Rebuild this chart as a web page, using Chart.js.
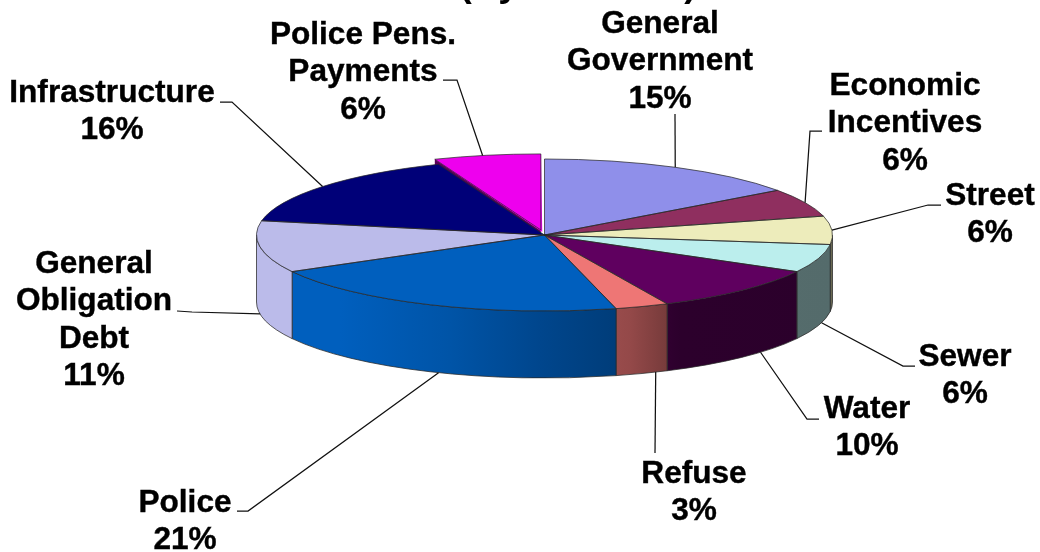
<!DOCTYPE html>
<html>
<head>
<meta charset="utf-8">
<title>Budget by function</title>
<script src="https://cdn.jsdelivr.net/npm/chart.js@4/dist/chart.umd.min.js"></script>
<style>
  html, body { margin: 0; padding: 0; background: #fff; }
  canvas { display: block; }
</style>
</head>
<body>
<canvas id="pie" width="1040" height="552"></canvas>
<script>
// Budget shares, clockwise from twelve o'clock.
const categories = [
  'General\nGovernment', 'Economic\nIncentives', 'Street', 'Sewer', 'Water',
  'Refuse', 'Police', 'General\nObligation\nDebt', 'Infrastructure', 'Police Pens.\nPayments'
];
const shares = [15, 6, 6, 6, 10, 3, 21, 11, 16, 6];
const sliceColors = [
  '#8f8fea', '#8f2f5f', '#edecbb', '#bbeeed', '#5f005f',
  '#ee7675', '#005fbe', '#bbbbea', '#000078', '#ee00ee'
];
const explodedOffsets = [0, 0, 0, 0, 0, 0, 0, 0, 0, 48];
const chartTitle = '(By Function)';

// Label placement: centre x, first baseline, leader elbow points, and how far
// across its slice the leader lands.
const labelLayout = [
  { x: 660, y: 33,  elbow: [[675, 114]], along: 0.5 },
  { x: 905, y: 95,  elbow: [[822, 131], [810, 131]], along: 0.5 },
  { x: 990, y: 205, elbow: [[941, 205], [928, 205]], along: 0.5 },
  { x: 965, y: 366, elbow: [[915, 366], [903, 366]], along: 0.4 },
  { x: 867, y: 418, elbow: [[819, 419], [807, 419]], along: 0.35 },
  { x: 694, y: 483, elbow: [[655, 453]], along: 0.23 },
  { x: 185, y: 512, elbow: [[237, 511], [248, 511]], along: 0.476 },
  { x: 94,  y: 273, elbow: [[177, 311], [192, 312]], along: 0.5 },
  { x: 112, y: 102, elbow: [[220, 102], [232, 102]], along: 0.5 },
  { x: 363, y: 44,  elbow: [[443, 80], [457, 80]], along: 0.46 }
];

const TILT = 76 / 288;     // vertical squash of the pie disc
const DEPTH = 67;          // wall height in pixels
const LABEL_FONT = 'bold 31.6px "Liberation Sans", Arial, sans-serif';
const LINE_STEP = 37.4;
// Light falling across the wall, from left to right.
const wallLight = [[256, 1], [340, 1], [450, 0.88], [540, 0.74], [630, 0.62], [680, 0.46], [833, 0.45]];

function shade(hex, f) {
  const n = parseInt(hex.slice(1), 16);
  const c = [n >> 16, (n >> 8) & 255, n & 255].map(v => Math.round(v * f));
  return `rgb(${c[0]},${c[1]},${c[2]})`;
}

// Screen shift the arc element applies to an exploded slice, in unsquashed units.
function arcShift(arc) {
  const off = (arc.options.offset || 0) / 4;
  const mid = (arc.startAngle + arc.endAngle) / 2;
  const span = arc.endAngle - arc.startAngle;
  const d = off * (1 + (1 - Math.sin(Math.min(Math.PI, span))));
  return { dx: Math.cos(mid) * d, dy: Math.sin(mid) * d };
}

const pie3d = {
  id: 'pie3d',
  beforeDatasetDraw(chart) {
    const { ctx } = chart;
    const arcs = chart.getDatasetMeta(0).data;
    const { x: cx, y: cy, outerRadius: r } = arcs[0];

    // Flank of the exploded slice, seen through the gap beside its neighbour.
    const last = arcs[arcs.length - 1];
    const s = arcShift(last);
    const ax = cx + s.dx, ay = cy + s.dy * TILT;
    const ex = ax + r * Math.cos(last.startAngle), ey = ay + r * TILT * Math.sin(last.startAngle);
    ctx.save();
    ctx.fillStyle = '#5a005a';
    ctx.beginPath();
    ctx.moveTo(ax, ay);
    ctx.lineTo(ex, ey);
    ctx.lineTo(ex, ey + DEPTH);
    ctx.lineTo(ax, ay + DEPTH);
    ctx.closePath();
    ctx.fill();

    // Outer walls of the slices facing the viewer.
    arcs.forEach((arc, i) => {
      const a0 = Math.max(arc.startAngle, 0);
      const a1 = Math.min(arc.endAngle, Math.PI);
      if (a1 <= a0) return;
      const g = ctx.createLinearGradient(256, 0, 833, 0);
      wallLight.forEach(([x, f]) => g.addColorStop((x - 256) / 577, shade(sliceColors[i], f)));
      ctx.beginPath();
      ctx.ellipse(cx, cy, r, r * TILT, 0, a0, a1);
      ctx.ellipse(cx, cy + DEPTH, r, r * TILT, 0, a1, a0, true);
      ctx.closePath();
      ctx.fillStyle = g;
      ctx.fill();
      ctx.lineWidth = 1;
      ctx.strokeStyle = 'rgba(40,40,40,0.75)';
      ctx.stroke();
    });
    ctx.restore();

    // The library draws the slices themselves through this squash.
    ctx.save();
    ctx.translate(cx, cy);
    ctx.scale(1, TILT);
    ctx.translate(-cx, -cy);
  },
  afterDatasetDraw(chart) {
    const { ctx } = chart;
    ctx.restore();
    const arcs = chart.getDatasetMeta(0).data;
    ctx.save();
    ctx.lineWidth = 1;
    ctx.strokeStyle = 'rgba(40,40,40,0.72)';
    arcs.forEach(arc => {
      const s = arcShift(arc);
      const ax = arc.x + s.dx, ay = arc.y + s.dy * TILT;
      ctx.beginPath();
      ctx.moveTo(ax, ay);
      ctx.ellipse(ax, ay, arc.outerRadius, arc.outerRadius * TILT, 0, arc.startAngle, arc.endAngle);
      ctx.closePath();
      ctx.stroke();
    });
    ctx.restore();
  },
  afterDraw(chart) {
    const { ctx } = chart;
    const arcs = chart.getDatasetMeta(0).data;
    ctx.save();

    // Title runs off the top edge of the canvas.
    ctx.fillStyle = '#000';
    ctx.textAlign = 'center';
    ctx.textBaseline = 'alphabetic';
    ctx.font = 'bold 36.8px "Liberation Sans", Arial, sans-serif';
    ctx.fillText(chartTitle, 578, -4.5);

    ctx.font = LABEL_FONT;
    labelLayout.forEach((place, i) => {
      const arc = arcs[i];
      const s = arcShift(arc);
      const a = arc.startAngle + (arc.endAngle - arc.startAngle) * place.along;
      let px = arc.x + s.dx + arc.outerRadius * Math.cos(a);
      let py = arc.y + s.dy * TILT + arc.outerRadius * TILT * Math.sin(a);
      if (a > 0 && a < Math.PI) py += DEPTH;

      ctx.beginPath();
      ctx.moveTo(place.elbow[0][0], place.elbow[0][1]);
      place.elbow.slice(1).forEach(p => ctx.lineTo(p[0], p[1]));
      ctx.lineTo(px, py);
      ctx.lineWidth = 1.25;
      ctx.strokeStyle = '#111';
      ctx.stroke();

      // A hairline stroke gives the labels their heavier weight.
      ctx.lineWidth = 0.4;
      ctx.strokeStyle = '#000';
      const lines = categories[i].split('\n').concat(shares[i] + '%');
      lines.forEach((line, n) => {
        ctx.fillText(line, place.x, place.y + n * LINE_STEP);
        ctx.strokeText(line, place.x, place.y + n * LINE_STEP);
      });
    });
    ctx.restore();
  }
};

new Chart(document.getElementById('pie'), {
  type: 'pie',
  data: {
    labels: categories,
    datasets: [{
      data: shares,
      backgroundColor: sliceColors,
      offset: explodedOffsets,
      borderWidth: 0,
      clip: false
    }]
  },
  options: {
    responsive: false,
    animation: false,
    events: [],
    radius: 288,
    layout: { padding: { left: 49, bottom: 82 } },
    plugins: { legend: { display: false }, tooltip: { enabled: false } }
  },
  plugins: [pie3d]
});
</script>
</body>
</html>
